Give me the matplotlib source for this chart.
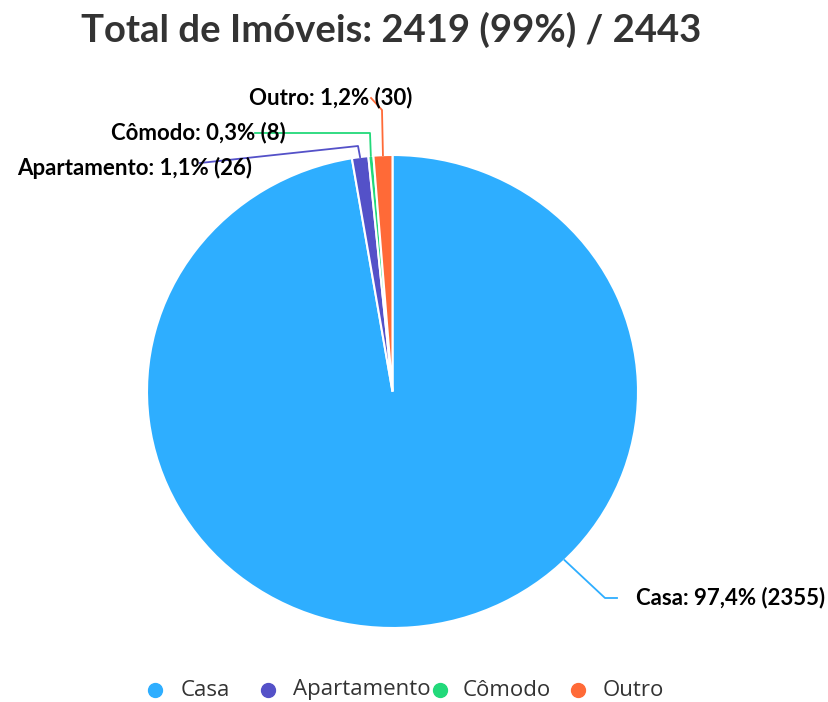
import numpy as np
import matplotlib.pyplot as plt

# dados do gráfico
categorias = ["Casa", "Apartamento", "Cômodo", "Outro"]
quantidades = [2355, 26, 8, 30]
total_cadastrado = 2443
cores = ["#2EAEFF", "#5451C8", "#22D97A", "#FF6A37"]

W, H = 829, 702
fig = plt.figure(figsize=(W / 100, H / 100), dpi=100)

# centro e raios da pizza (em pixels, levemente achatada como na imagem)
cx, cy, rx, ry = 392.5, 391.5, 245.5, 236.5

ax = fig.add_axes([0, 0, 1, 1])
wedges, _ = ax.pie(quantidades, colors=cores, startangle=90, counterclock=False,
                   radius=1, wedgeprops=dict(edgecolor="white", linewidth=1.5))
ax.set_aspect("auto")
ax.set_xlim((0 - cx) / rx, (W - cx) / rx)
ax.set_ylim((cy - H) / ry, cy / ry)
ax.axis("off")

# eixo de sobreposição em pixels para textos e linhas
ov = fig.add_axes([0, 0, 1, 1], facecolor="none")
ov.set_xlim(0, W)
ov.set_ylim(H, 0)
ov.axis("off")

fonte = "Lato"
total = sum(quantidades)

ov.text(391.5, 30, f"Total de Imóveis: {total} ({round(total / total_cadastrado * 100)}%) / {total_cadastrado}",
        ha="center", va="center", fontsize=27.5, fontweight="bold", color="#333333", family=fonte)

# posição das linhas-guia e dos rótulos (layout)
ancora_casa = -45.5
guias = {
    "Casa": [(605, 598), (617, 598)],
    "Apartamento": [(358, 146), (200, 163)],
    "Cômodo": [(370, 133), (255, 133)],
    "Outro": [(382, 110), (371, 98)],
}
rotulos = {
    "Casa": (636, 598, "left"),
    "Apartamento": (252, 168, "right"),
    "Cômodo": (286, 133, "right"),
    "Outro": (412, 98, "right"),
}

for w, cat, q, cor in zip(wedges, categorias, quantidades, cores):
    ang = ancora_casa if cat == "Casa" else (w.theta1 + w.theta2) / 2
    ax0 = cx + rx * np.cos(np.radians(ang))
    ay0 = cy - ry * np.sin(np.radians(ang))
    pts = [(ax0, ay0)] + guias[cat]
    ov.plot([p[0] for p in pts], [p[1] for p in pts], color=cor, lw=1.3, zorder=2)
    pct = f"{q / total * 100:.1f}".replace(".", ",")
    tx, ty, ha = rotulos[cat]
    ov.text(tx, ty, f"{cat}: {pct}% ({q})", ha=ha, va="center", fontsize=16,
            fontweight="bold", color="black", family=fonte, zorder=3)

# legenda desenhada à mão (espaçamento irregular como no original)
leg_marcador_x = [155, 268, 440, 578]
leg_texto_x = [181, 293, 463, 603]
for cat, cor, mx, tx in zip(categorias, cores, leg_marcador_x, leg_texto_x):
    ov.plot([mx], [690], marker="o", ms=10, color=cor, ls="none", clip_on=False)
    ov.text(tx, 695.5, cat, ha="left", va="baseline", fontsize=16, color="#333333",
            family="Open Sans")

fig.savefig("out.png", dpi=100)
